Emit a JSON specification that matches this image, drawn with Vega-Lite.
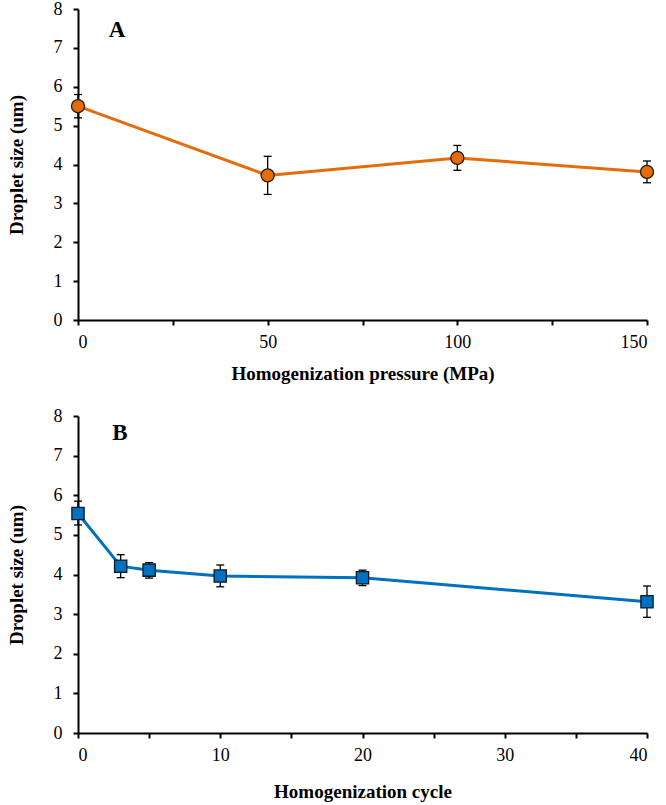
{
  "$schema": "https://vega.github.io/schema/vega-lite/v6.json",
  "padding": {"left": 7, "top": 0, "right": 5, "bottom": 5},
  "spacing": 24,
  "background": "white",
  "datasets": {
    "pressure": [
      {"pressure": 0, "size": 5.5, "lo": 5.2, "hi": 5.8},
      {"pressure": 50, "size": 3.72, "lo": 3.23, "hi": 4.21},
      {"pressure": 100, "size": 4.17, "lo": 3.85, "hi": 4.49},
      {"pressure": 150, "size": 3.81, "lo": 3.53, "hi": 4.09}
    ],
    "cycle": [
      {"cycle": 0, "size": 5.54, "lo": 5.25, "hi": 5.85},
      {"cycle": 3, "size": 4.21, "lo": 3.92, "hi": 4.5},
      {"cycle": 5, "size": 4.11, "lo": 3.91, "hi": 4.3},
      {"cycle": 10, "size": 3.96, "lo": 3.69, "hi": 4.24},
      {"cycle": 20, "size": 3.92, "lo": 3.72, "hi": 4.11},
      {"cycle": 40, "size": 3.31, "lo": 2.92, "hi": 3.71}
    ],
    "labelA": [{"pressure": 10.3, "size": 7.45, "label": "A"}],
    "labelB": [{"cycle": 2.95, "size": 7.58, "label": "B"}]
  },
  "config": {
    "view": {"stroke": null},
    "axis": {
      "grid": false,
      "domainColor": "black",
      "domainWidth": 2,
      "tickColor": "black",
      "tickWidth": 2,
      "tickSize": 5,
      "labelFont": "Liberation Serif",
      "labelFontSize": 18,
      "labelColor": "black",
      "labelOverlap": false,
      "titleFont": "Liberation Serif",
      "titleFontSize": 19,
      "titleFontWeight": "bold",
      "titleColor": "black"
    },
    "axisY": {"labelPadding": 11, "titlePadding": 27},
    "axisX": {"labelPadding": 8, "titlePadding": 13}
  },
  "vconcat": [
    {
      "width": 569,
      "height": 311,
      "encoding": {
        "x": {
          "field": "pressure",
          "type": "quantitative",
          "title": "Homogenization pressure (MPa)",
          "scale": {"domain": [0, 150], "nice": false},
          "axis": {"values": [0, 25, 50, 75, 100, 125, 150], "labelExpr": "datum.value % 50 == 0 ? datum.label : ''"}
        },
        "y": {
          "field": "size",
          "type": "quantitative",
          "title": "Droplet size (um)",
          "scale": {"domain": [0, 8], "nice": false},
          "axis": {"values": [0, 1, 2, 3, 4, 5, 6, 7, 8]}
        }
      },
      "layer": [
        {
          "data": {"name": "pressure"},
          "mark": {"type": "rule", "color": "black", "strokeWidth": 1.3},
          "encoding": {
            "y": {"field": "lo", "type": "quantitative", "title": "Droplet size (um)"},
            "y2": {"field": "hi"}
          }
        },
        {
          "data": {"name": "pressure"},
          "mark": {"type": "tick", "orient": "horizontal", "size": 8, "thickness": 1.3, "color": "black", "opacity": 1},
          "encoding": {"y": {"field": "lo", "type": "quantitative", "title": "Droplet size (um)"}}
        },
        {
          "data": {"name": "pressure"},
          "mark": {"type": "tick", "orient": "horizontal", "size": 8, "thickness": 1.3, "color": "black", "opacity": 1},
          "encoding": {"y": {"field": "hi", "type": "quantitative", "title": "Droplet size (um)"}}
        },
        {
          "data": {"name": "pressure"},
          "mark": {"type": "line", "color": "#E46C0A", "strokeWidth": 3}
        },
        {
          "data": {"name": "pressure"},
          "mark": {"type": "point", "shape": "circle", "filled": true, "fill": "#E46C0A", "stroke": "#2a1a08", "strokeWidth": 1.3, "size": 170, "opacity": 1}
        },
        {
          "data": {"name": "labelA"},
          "mark": {"type": "text", "font": "Liberation Serif", "fontSize": 23, "fontWeight": "bold", "color": "black"},
          "encoding": {"text": {"field": "label"}}
        }
      ]
    },
    {
      "width": 569,
      "height": 317,
      "encoding": {
        "x": {
          "field": "cycle",
          "type": "quantitative",
          "title": "Homogenization cycle",
          "scale": {"domain": [0, 40], "nice": false},
          "axis": {"values": [0, 5, 10, 15, 20, 25, 30, 35, 40], "labelExpr": "datum.value % 10 == 0 ? datum.label : ''", "titlePadding": 18}
        },
        "y": {
          "field": "size",
          "type": "quantitative",
          "title": "Droplet size (um)",
          "scale": {"domain": [0, 8], "nice": false},
          "axis": {"values": [0, 1, 2, 3, 4, 5, 6, 7, 8]}
        }
      },
      "layer": [
        {
          "data": {"name": "cycle"},
          "mark": {"type": "rule", "color": "black", "strokeWidth": 1.3},
          "encoding": {
            "y": {"field": "lo", "type": "quantitative", "title": "Droplet size (um)"},
            "y2": {"field": "hi"}
          }
        },
        {
          "data": {"name": "cycle"},
          "mark": {"type": "tick", "orient": "horizontal", "size": 8, "thickness": 1.3, "color": "black", "opacity": 1},
          "encoding": {"y": {"field": "lo", "type": "quantitative", "title": "Droplet size (um)"}}
        },
        {
          "data": {"name": "cycle"},
          "mark": {"type": "tick", "orient": "horizontal", "size": 8, "thickness": 1.3, "color": "black", "opacity": 1},
          "encoding": {"y": {"field": "hi", "type": "quantitative", "title": "Droplet size (um)"}}
        },
        {
          "data": {"name": "cycle"},
          "mark": {"type": "line", "color": "#0070C0", "strokeWidth": 3}
        },
        {
          "data": {"name": "cycle"},
          "mark": {"type": "point", "shape": "square", "filled": true, "fill": "#0070C0", "stroke": "#0a1a2a", "strokeWidth": 1.3, "size": 150, "opacity": 1}
        },
        {
          "data": {"name": "labelB"},
          "mark": {"type": "text", "font": "Liberation Serif", "fontSize": 23, "fontWeight": "bold", "color": "black"},
          "encoding": {"text": {"field": "label"}}
        }
      ]
    }
  ]
}
